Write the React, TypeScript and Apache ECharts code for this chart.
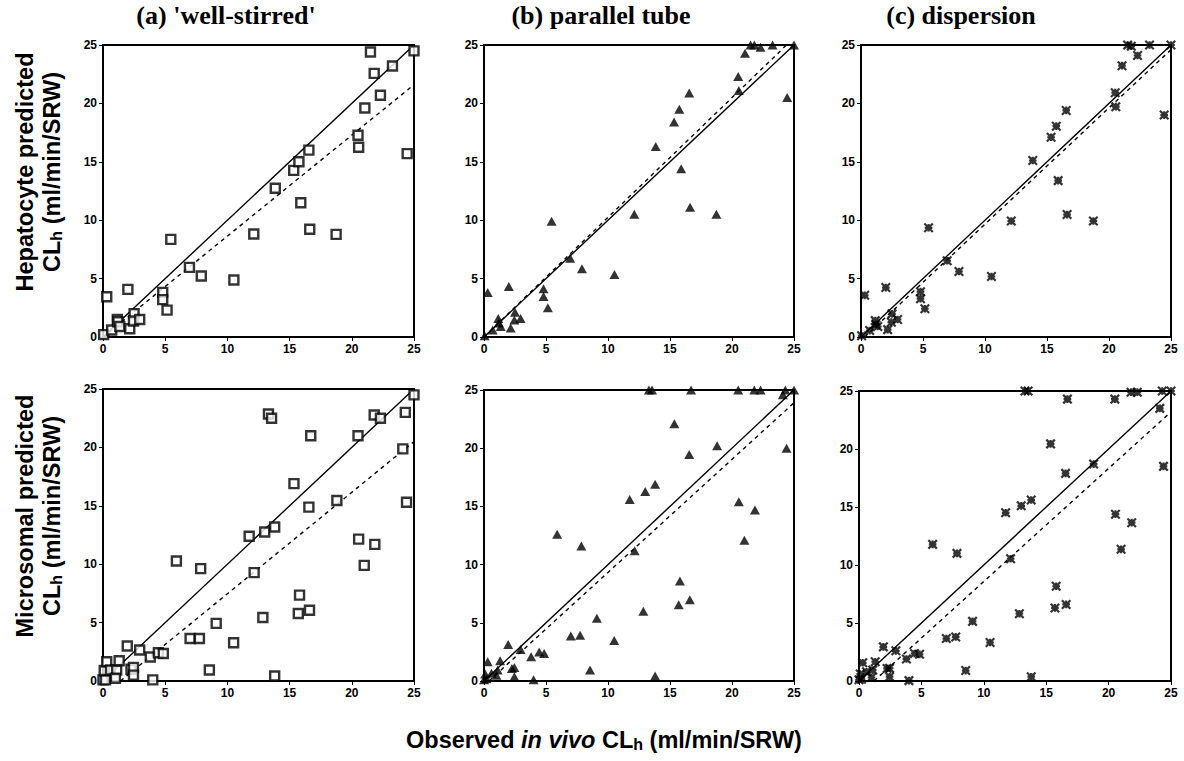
import React, { useEffect, useRef } from "react";
import * as echarts from "echarts";

// ---------- data ----------
const tickValues = [0, 5, 10, 15, 20, 25];
const columnTitles = ["(a) 'well-stirred'", "(b) parallel tube", "(c) dispersion"];
const rowTitles = ["Hepatocyte predicted", "Microsomal predicted"];

// Top row (hepatocytes): observed in vivo CLh
const topObs = [0.05, 0.3, 0.7, 1.15, 1.2, 1.35, 2.0, 2.15, 2.5, 2.45, 2.95, 4.8, 4.8, 5.15, 5.45, 6.95, 7.9, 10.52, 12.12, 13.85, 15.33, 15.75, 15.9, 16.55, 16.62, 18.74, 20.5, 20.55, 21.05, 21.5, 21.8, 22.3, 23.27, 24.45, 25];
const topWellStirred = [0.2, 3.45, 0.6, 1.5, 1.3, 0.9, 4.08, 0.7, 2.0, 1.37, 1.5, 3.82, 3.2, 2.3, 8.36, 5.96, 5.22, 4.88, 8.82, 12.73, 14.27, 15.0, 11.5, 16.0, 9.22, 8.79, 17.27, 16.24, 19.6, 24.4, 22.57, 20.7, 23.2, 15.7, 24.5];
const topParallel = [0.1, 3.8, 0.6, 1.58, 1.2, 0.9, 4.33, 0.77, 2.12, 1.46, 1.58, 4.13, 3.47, 2.5, 9.9, 6.75, 5.85, 5.36, 10.5, 16.3, 18.4, 19.5, 14.4, 20.9, 11.1, 10.5, 22.3, 21.1, 24.3, 25, 25, 24.8, 25, 20.5, 25];
const topDispersion = [0.1, 3.57, 0.55, 1.4, 1.06, 0.9, 4.23, 0.63, 1.98, 1.27, 1.5, 3.88, 3.28, 2.42, 9.35, 6.53, 5.61, 5.18, 9.93, 15.11, 17.1, 18.05, 13.39, 19.4, 10.48, 9.93, 20.92, 19.72, 23.23, 25, 24.9, 24.1, 25, 19.0, 25];

// Bottom row (microsomes): observed in vivo CLh
const botObs = [0.0, 0.2, 0.1, 0.3, 0.6, 1.1, 1.3, 1.0, 1.95, 2.25, 2.45, 2.45, 2.95, 3.8, 4.45, 4.85, 4.0, 5.9, 7.85, 7.0, 7.75, 9.1, 8.55, 10.5, 11.75, 12.15, 12.85, 13.0, 13.3, 13.55, 13.8, 13.8, 15.35, 15.8, 15.7, 16.55, 16.6, 16.7, 18.8, 20.5, 20.55, 21.0, 21.8, 21.85, 22.3, 24.1, 24.3, 24.4, 25.0];
const botWellStirred = [0.1, 0.1, 0.9, 1.65, 0.94, 0.94, 1.74, 0.23, 3.0, 1.0, 1.17, 0.5, 2.65, 2.05, 2.42, 2.36, 0.1, 10.28, 9.62, 3.64, 3.64, 4.93, 0.94, 3.27, 12.39, 9.28, 5.44, 12.76, 22.86, 22.5, 13.19, 0.43, 16.9, 7.35, 5.78, 14.89, 6.06, 21.0, 15.46, 21.0, 12.15, 9.9, 22.78, 11.7, 22.5, 19.87, 23.0, 15.3, 24.5];
const botParallel = [0.1, 0.2, 0.6, 1.66, 0.66, 0.94, 1.74, 0.5, 3.14, 1.08, 1.17, 0.37, 2.71, 2.08, 2.5, 2.37, 0.1, 12.6, 11.6, 3.86, 3.94, 5.4, 0.95, 3.47, 15.6, 11.2, 6.0, 16.27, 25, 25, 16.9, 0.43, 22.1, 8.6, 6.55, 19.46, 6.97, 25, 20.2, 25, 15.4, 12.1, 25, 14.7, 25, 24.6, 25, 20.0, 25];
const botDispersion = [0.1, 0.15, 0.6, 1.57, 0.8, 0.94, 1.66, 0.3, 2.94, 1.08, 1.1, 0.37, 2.6, 1.9, 2.37, 2.3, 0.03, 11.78, 11.0, 3.66, 3.8, 5.14, 0.9, 3.32, 14.5, 10.54, 5.8, 15.1, 25, 25, 15.6, 0.37, 20.44, 8.17, 6.3, 17.9, 6.6, 24.3, 18.7, 24.3, 14.38, 11.35, 24.9, 13.65, 24.9, 23.5, 25, 18.5, 25];

// line of unity and regression (dashed) line end points
const unityLine = [[0, 0], [25, 25]];
const fitTopA = [[0, 0], [25, 21.6]];
const fitTopB = [[0, 0], [24.4, 25]];
const fitTopC = [[0.3, 0], [25, 24.6]];
const fitBotA = [[1.4, 0], [25, 20.5]];
const fitBotB = [[0.4, 0], [25, 23.9]];
const fitBotC = [[1.2, 0], [25, 23.2]];

// ---------- layout ----------
const grids = [
  { left: 103, top: 45, width: 311, height: 292 },
  { left: 484, top: 45, width: 310, height: 292 },
  { left: 861, top: 45, width: 310, height: 292 },
  { left: 103, top: 389, width: 311, height: 292 },
  { left: 484, top: 390, width: 310, height: 291 },
  { left: 859, top: 391, width: 312, height: 290 },
];

const SANS = "'Liberation Sans', Arial, sans-serif";
const SERIF = "'Liberation Serif', 'Times New Roman', serif";

const asteriskPath =
  "path://M0,0L10,10M10,0L0,10M5,0.5L5,9.5M0.5,5L9.5,5";

const markerStyles: any = {
  square: {
    symbol: "rect",
    symbolSize: 9,
    itemStyle: { color: "#fff", borderColor: "#000", borderWidth: 2.4 },
  },
  triangle: {
    symbol: "triangle",
    symbolSize: [10, 9],
    itemStyle: { color: "#000" },
  },
  star: {
    symbol: asteriskPath,
    symbolSize: 8.5,
    itemStyle: { color: "#000", borderColor: "#000", borderWidth: 2.2 },
  },
};

const panels = [
  { obs: topObs, pred: topWellStirred, fit: fitTopA, marker: "square" },
  { obs: topObs, pred: topParallel, fit: fitTopB, marker: "triangle" },
  { obs: topObs, pred: topDispersion, fit: fitTopC, marker: "star" },
  { obs: botObs, pred: botWellStirred, fit: fitBotA, marker: "square" },
  { obs: botObs, pred: botParallel, fit: fitBotB, marker: "triangle" },
  { obs: botObs, pred: botDispersion, fit: fitBotC, marker: "star" },
];

function buildOption() {
  const axisCommon = (gridIndex: number) => ({
    gridIndex,
    type: "value",
    min: tickValues[0],
    max: tickValues[tickValues.length - 1],
    interval: tickValues[1] - tickValues[0],
    axisLine: { show: true, onZero: false, lineStyle: { color: "#000", width: 2 } },
    axisTick: { show: true, inside: false, length: 4, lineStyle: { color: "#000", width: 1 } },
    splitLine: { show: false },
    axisLabel: {
      color: "#000",
      fontFamily: SANS,
      fontWeight: "bold",
      fontSize: 12,
      margin: 6,
    },
  });

  const series: any[] = [];
  panels.forEach((p, i) => {
    series.push({
      type: "line",
      xAxisIndex: i,
      yAxisIndex: i,
      data: unityLine,
      symbol: "none",
      silent: true,
      lineStyle: { color: "#000", width: 1.4 },
      z: 2,
    });
    series.push({
      type: "line",
      xAxisIndex: i,
      yAxisIndex: i,
      data: p.fit,
      symbol: "none",
      silent: true,
      lineStyle: { color: "#000", width: 1.4, type: [4, 4] },
      z: 2,
    });
    const m = markerStyles[p.marker];
    series.push({
      type: "scatter",
      xAxisIndex: i,
      yAxisIndex: i,
      clip: false,
      data: p.obs.map((x, k) => [x, p.pred[k]]),
      symbol: m.symbol,
      symbolSize: m.symbolSize,
      itemStyle: m.itemStyle,
      z: 3,
    });
  });

  const graphics: any[] = [];
  const titleCenters = [226, 601, 961];
  columnTitles.forEach((t, i) => {
    graphics.push({
      type: "text",
      x: titleCenters[i],
      y: 15,
      style: {
        text: t,
        fill: "#000",
        font: `bold 26px ${SERIF}`,
        textAlign: "center",
        textVerticalAlign: "middle",
      },
    });
  });

  const rowCenters = [172, 516];
  const yTitleFont = {
    fill: "#000",
    fontFamily: SANS,
    fontWeight: "bold",
    fontSize: 23.5,
  };
  const subStyle = { fontFamily: SANS, fontWeight: "bold", fontSize: 16, padding: [8, 0, 0, 0] };
  rowTitles.forEach((t, i) => {
    graphics.push({
      type: "text",
      x: 25,
      y: rowCenters[i],
      rotation: Math.PI / 2,
      style: {
        ...yTitleFont,
        text: t,
        align: "center",
        verticalAlign: "middle",
      },
    });
    graphics.push({
      type: "text",
      x: 52,
      y: rowCenters[i],
      rotation: Math.PI / 2,
      style: {
        ...yTitleFont,
        text: "CL{sub|h} (ml/min/SRW)",
        align: "center",
        verticalAlign: "middle",
        rich: { sub: subStyle },
      },
    });
  });

  graphics.push({
    type: "text",
    x: 604,
    y: 740,
    style: {
      ...yTitleFont,
      text: "Observed {it|in vivo} CL{sub|h} (ml/min/SRW)",
      align: "center",
      verticalAlign: "middle",
      rich: {
        it: { fontFamily: SANS, fontWeight: "bold", fontStyle: "italic", fontSize: 23.5 },
        sub: subStyle,
      },
    },
  });

  return {
    animation: false,
    backgroundColor: "#fff",
    grid: grids.map((g) => ({
      ...g,
      show: true,
      borderColor: "#000",
      borderWidth: 2,
      backgroundColor: "transparent",
      containLabel: false,
    })),
    xAxis: grids.map((_, i) => axisCommon(i)),
    yAxis: grids.map((_, i) => axisCommon(i)),
    series,
    graphic: graphics,
  };
}

export default function App() {
  const ref = useRef<HTMLDivElement>(null);
  useEffect(() => {
    if (!ref.current) return;
    const chart = echarts.init(ref.current, undefined, { renderer: "svg" });
    chart.setOption(buildOption() as any);
    return () => chart.dispose();
  }, []);
  return (
    <div
      ref={ref}
      style={{ position: "fixed", left: 0, top: 0, width: 1184, height: 761, background: "#fff" }}
    />
  );
}
